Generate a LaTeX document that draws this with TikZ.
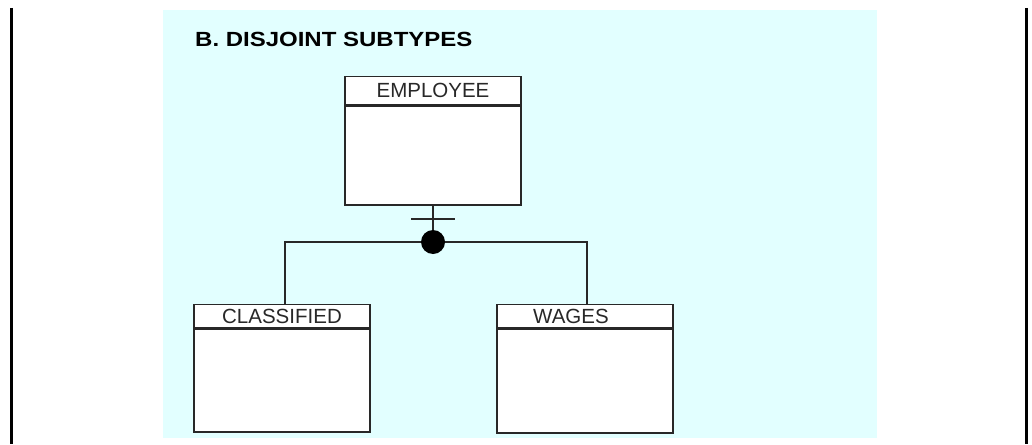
\documentclass[tikz,border=0pt]{standalone}
\usepackage{fontspec}
\setmainfont{Liberation Sans}
\newfontfamily\headfont[FakeStretch=1.17]{Liberation Sans}
\usetikzlibrary{positioning}
\definecolor{PaleCyan}{RGB}{226,255,255}
\definecolor{LineGray}{RGB}{40,40,40}

\begin{document}
\begin{tikzpicture}[x=1pt, y=-1pt,
    font=\fontsize{20.5}{22}\selectfont,
    enthead/.style={draw=LineGray, line width=1.4pt, fill=white, text=LineGray,
                    minimum width=176pt, inner sep=0pt, anchor=north},
    entbody/.style={draw=LineGray, line width=1.4pt, fill=white,
                    minimum width=176pt, inner sep=0pt, below=0pt of #1},
    ln/.style={LineGray, line width=1.4pt},
    frame/.style={black, line width=3pt}
  ]
  \useasboundingbox (0,0) rectangle (1032,444);
  % page frame and panel
  \draw[frame] (11.5,8) -- (11.5,444);
  \draw[frame] (1026,8) -- (1026,444);
  \fill[PaleCyan] (163,10) rectangle (877,438);

  \node[anchor=base west, inner sep=0pt,
        font=\headfont\bfseries\fontsize{20.5}{22}\selectfont] (title) at (195,47)
        {B. DISJOINT SUBTYPES};

  % entities
  \node[enthead, minimum height=28pt] (empH) at (433,76) {EMPLOYEE};
  \node[entbody=empH, minimum height=99pt] (empB) {};
  \node[enthead, minimum height=23pt] (clsH) at (282,304) {CLASSIFIED};
  \node[entbody=clsH, minimum height=103pt] (clsB) {};
  \node[enthead, minimum height=23pt] (wagH) at (585,304) {WAGES\hspace*{28pt}};
  \node[entbody=wagH, minimum height=104pt] (wagB) {};

  % subtype connector
  \coordinate (jl) at (285,242);
  \coordinate (jr) at (587,242);
  \coordinate (bar) at (433,219);
  \draw[ln] (jl |- clsH.north) -- (jl) -- (jr) -- (jr |- wagH.north);
  \node[circle, fill=black, minimum size=24pt, inner sep=0pt] (disj) at (433,242) {};
  \draw[ln] (empB.south) -- (disj.north);
  \draw[ln] ([xshift=-22pt]bar) -- ([xshift=22pt]bar);
\end{tikzpicture}
\end{document}
